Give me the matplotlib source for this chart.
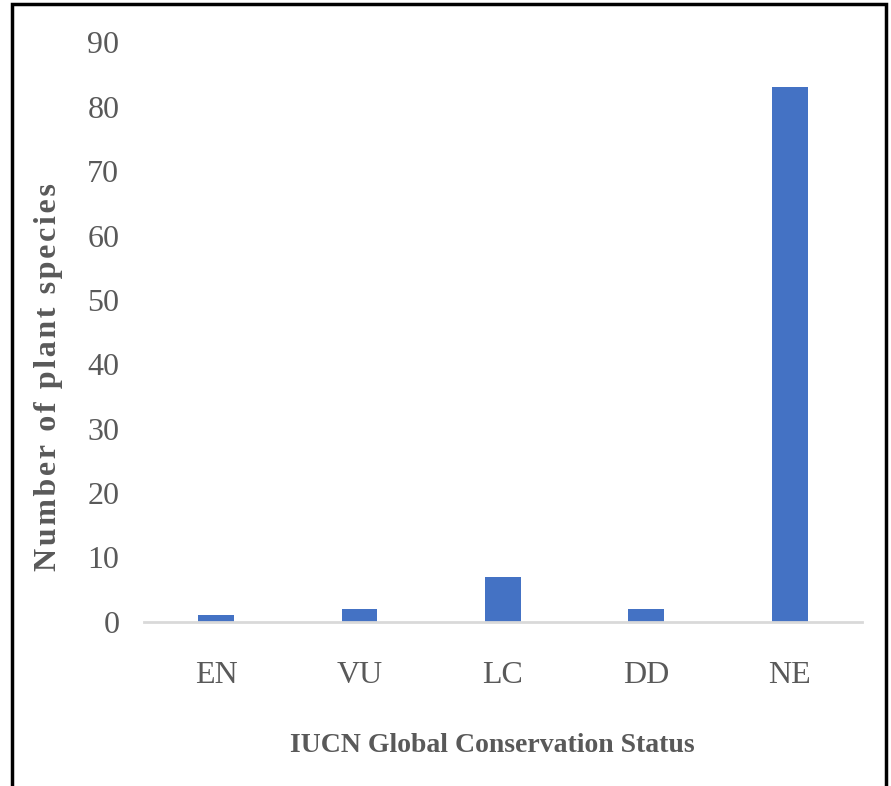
import matplotlib
matplotlib.use('Agg')
import matplotlib.pyplot as plt
from matplotlib.patches import Rectangle

# Data
status = ['EN', 'VU', 'LC', 'DD', 'NE']
jumlah_spesies = [1, 2, 7, 2, 83]
y_ticks = [0, 10, 20, 30, 40, 50, 60, 70, 80, 90]

plt.rcParams['font.family'] = ['Liberation Serif', 'DejaVu Serif']

fig = plt.figure(figsize=(8.91, 7.86), dpi=100)
ax = fig.add_axes([0.162, 0.209, 0.805, 0.737])

ax.bar(status, jumlah_spesies, width=0.25, color='#4472C4')

ax.set_ylim(0, 90)
ax.set_xlim(-0.5, len(status) - 0.5)
ax.set_yticks(y_ticks)
ax.tick_params(axis='both', length=0, labelsize=23, labelcolor='#595959')
ax.tick_params(axis='y', pad=18)
ax.tick_params(axis='x', pad=28)

for side in ['left', 'right', 'top']:
    ax.spines[side].set_visible(False)
ax.spines['bottom'].set_color('#d9d9d9')
ax.spines['bottom'].set_linewidth(2)

# Label sumbu (huruf diberi jarak sangat tipis)
label_y = '\u200a'.join('Number of plant species')
fig.text(0.054, 0.52, label_y, rotation=90, ha='center', va='center',
         fontsize=23, fontweight='bold', color='#595959')
fig.text(0.552, 0.052, 'IUCN Global Conservation Status', ha='center', va='center',
         fontsize=20, fontweight='bold', color='#595959')

# Bingkai luar
fig.patches.append(Rectangle((0.013, -0.01), 0.981, 1.005, transform=fig.transFigure,
                             fill=False, edgecolor='black', linewidth=2.5))

fig.savefig('out.png', dpi=100)
